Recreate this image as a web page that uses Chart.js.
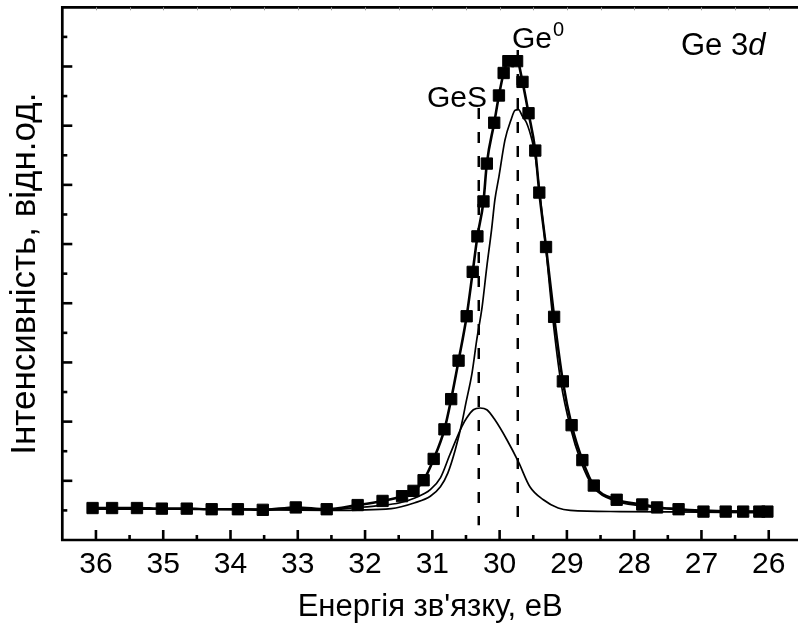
<!DOCTYPE html>
<html>
<head>
<meta charset="utf-8">
<script src="https://cdn.jsdelivr.net/npm/chart.js@4/dist/chart.umd.min.js"></script>
<style>
html,body{margin:0;padding:0;background:#fff;overflow:hidden}
#wrap{width:798px;height:635px;position:relative}
</style>
</head>
<body>
<div id="wrap"><canvas id="c" width="798" height="635"></canvas></div>
<script>
// ---- Data (binding energy in eV, intensity in arbitrary units) ----
const energy = [36.05, 35.76, 35.39, 35.02, 34.65, 34.28, 33.89, 33.52, 33.03, 32.57,
  32.11, 31.74, 31.45, 31.28, 31.13, 30.98, 30.82, 30.72, 30.61, 30.49,
  30.40, 30.33, 30.24, 30.19, 30.08, 30.01, 29.94, 29.87, 29.74, 29.66,
  29.57, 29.47, 29.41, 29.31, 29.19, 29.06, 28.93, 28.77, 28.60, 28.26,
  27.88, 27.66, 27.34, 26.97, 26.64, 26.38, 26.14, 26.02];
const intensity = [0.54, 0.54, 0.54, 0.53, 0.53, 0.52, 0.52, 0.51, 0.55, 0.52,
  0.59, 0.66, 0.74, 0.83, 1.01, 1.37, 1.87, 2.38, 3.03, 3.78,
  4.53, 5.13, 5.72, 6.36, 7.05, 7.51, 7.89, 8.09, 8.09, 7.74,
  7.21, 6.58, 5.87, 4.95, 3.77, 2.68, 1.94, 1.35, 0.92, 0.68,
  0.60, 0.55, 0.52, 0.48, 0.48, 0.48, 0.48, 0.48];

const gesEnergy = [36.04, 34.45, 32.96, 32.52, 32.22, 31.78, 31.48, 31.26, 31.03, 30.88,
  30.74, 30.56, 30.49, 30.39, 30.29, 30.19, 30.07, 29.89, 29.72, 29.55,
  29.35, 29.13, 28.95, 28.21, 27.02, 26.03];
const gesIntensity = [0.53, 0.52, 0.52, 0.51, 0.54, 0.58, 0.63, 0.71, 0.85, 1.05,
  1.44, 1.92, 2.06, 2.20, 2.23, 2.20, 2.03, 1.69, 1.32, 0.90,
  0.68, 0.54, 0.50, 0.48, 0.47, 0.46];

const ge0Energy = [36.05, 34.45, 32.52, 31.61, 31.26, 31.03, 30.88, 30.77, 30.66, 30.56,
  30.50, 30.41, 30.34, 30.26, 30.19, 30.12, 30.07, 30.01, 29.92, 29.83,
  29.77, 29.72, 29.66, 29.60, 29.52, 29.47, 29.40, 29.31, 29.21, 29.09,
  28.95, 28.79, 28.61, 28.28, 27.91, 27.47, 26.87, 26.03];
const ge0Intensity = [0.52, 0.52, 0.50, 0.53, 0.63, 0.74, 0.90, 1.13, 1.52, 1.98,
  2.32, 2.82, 3.38, 3.94, 4.62, 5.24, 5.75, 6.14, 6.76, 7.10,
  7.26, 7.27, 7.16, 7.05, 6.76, 6.48, 5.83, 4.90, 3.75, 2.67,
  1.91, 1.32, 0.90, 0.66, 0.58, 0.53, 0.50, 0.48];

// peak marker lines
const peakNames = ['GeS', 'Ge0'];
const peakEnergy = [30.31, 29.73];
const peakTop = [7.30, 8.28];
const peakBottom = [0.25, 0.25];

// axis ticks
const xTicks = [36, 35.5, 35, 34.5, 34, 33.5, 33, 32.5, 32, 31.5, 31, 30.5, 30, 29.5, 29, 28.5, 28, 27.5, 27, 26.5, 26];
const yTicks = [0.5, 1, 1.5, 2, 2.5, 3, 3.5, 4, 4.5, 5, 5.5, 6, 6.5, 7, 7.5, 8, 8.5];

const xTitle = 'Енергія зв\'язку, еВ';
const yTitle = 'Інтенсивність, відн.од.';

const pts = (xs, ys) => xs.map((v, i) => ({x: v, y: ys[i]}));

const FONT = '"Liberation Sans", Arial, sans-serif';

const framePlugin = {
  id: 'framePlugin',
  afterDraw(chart) {
    const {ctx, chartArea: a, scales: {x, y}} = chart;
    ctx.save();
    ctx.strokeStyle = '#000';
    ctx.lineCap = 'butt';
    ctx.lineWidth = 2.6;
    x.ticks.forEach(t => {
      const px = x.getPixelForValue(t.value);
      const len = Number.isInteger(t.value) ? 10 : 5;
      ctx.beginPath(); ctx.moveTo(px, a.bottom); ctx.lineTo(px, a.bottom - len); ctx.stroke();
    });
    y.ticks.forEach(t => {
      const py = y.getPixelForValue(t.value);
      const len = Number.isInteger(t.value) ? 10 : 5;
      ctx.beginPath(); ctx.moveTo(a.left, py); ctx.lineTo(a.left + len, py); ctx.stroke();
    });
    ctx.lineWidth = 2.7;
    ctx.beginPath();
    ctx.moveTo(a.right + 2, a.top);
    ctx.lineTo(a.left, a.top);
    ctx.lineTo(a.left, a.bottom);
    ctx.lineTo(a.right + 2, a.bottom);
    ctx.stroke();
    ctx.strokeStyle = '#999';
    ctx.lineWidth = 1;
    x.ticks.forEach(t => {
      const px = Math.round(x.getPixelForValue(t.value)) + 0.5;
      ctx.beginPath(); ctx.moveTo(px, a.top); ctx.lineTo(px, a.top + 3); ctx.stroke();
    });
    ctx.fillStyle = '#000';
    ctx.textBaseline = 'alphabetic';
    ctx.textAlign = 'left';
    ctx.font = '30px ' + FONT;
    ctx.fillText('GeS', 427, 106.5);
    ctx.fillText('Ge', 512, 48);
    const wGe = ctx.measureText('Ge').width;
    ctx.font = '20px ' + FONT;
    ctx.fillText('0', 512 + wGe + 1, 36);
    ctx.font = '31px ' + FONT;
    ctx.fillText('Ge 3', 681, 55);
    const w3 = ctx.measureText('Ge 3').width;
    ctx.font = 'italic 31px ' + FONT;
    ctx.fillText('d', 681 + w3, 55);
    ctx.restore();
  }
};

const peakDatasets = peakNames.map((n, i) => ({
  label: n,
  data: [{x: peakEnergy[i], y: peakTop[i]}, {x: peakEnergy[i], y: peakBottom[i]}],
  borderColor: '#000',
  borderWidth: 2.5,
  borderDash: [11, 13],
  pointRadius: 0,
  fill: false,
  tension: 0
}));

new Chart(document.getElementById('c'), {
  type: 'line',
  data: {
    datasets: [
      {
        label: 'Ge 3d',
        data: pts(energy, intensity),
        borderColor: '#000',
        backgroundColor: '#000',
        borderWidth: 2.6,
        pointStyle: 'rect',
        pointRadius: 8,
        pointBorderWidth: 1,
        pointBackgroundColor: '#000',
        pointBorderColor: '#000',
        cubicInterpolationMode: 'monotone',
        fill: false
      },
      {
        label: 'Ge0',
        data: pts(ge0Energy, ge0Intensity),
        borderColor: '#000',
        borderWidth: 1.7,
        pointRadius: 0,
        cubicInterpolationMode: 'monotone',
        fill: false
      },
      {
        label: 'GeS',
        data: pts(gesEnergy, gesIntensity),
        borderColor: '#000',
        borderWidth: 1.7,
        pointRadius: 0,
        cubicInterpolationMode: 'monotone',
        fill: false
      },
      ...peakDatasets
    ]
  },
  options: {
    responsive: false,
    devicePixelRatio: 1,
    animation: false,
    events: [],
    layout: {autoPadding: false, padding: {top: 7.3, left: 0, right: 0, bottom: 0}},
    plugins: {legend: {display: false}, tooltip: {enabled: false}, title: {display: false}},
    scales: {
      x: {
        type: 'linear',
        reverse: true,
        min: 25.565,
        max: 36.5,
        afterBuildTicks: s => { s.ticks = xTicks.map(v => ({value: v})); },
        afterFit: s => { s.height = 95; s.paddingLeft = 0; s.paddingRight = 0; },
        grid: {display: false, drawTicks: false},
        border: {display: false},
        ticks: {
          autoSkip: false,
          maxRotation: 0,
          padding: 7,
          color: '#000',
          font: {family: FONT, size: 30},
          callback: v => Number.isInteger(v) ? String(v) : ''
        },
        title: {
          display: true,
          text: xTitle,
          color: '#000',
          font: {family: FONT, size: 31},
          padding: {top: 0, bottom: 9}
        }
      },
      y: {
        type: 'linear',
        min: 0,
        max: 9,
        afterBuildTicks: s => { s.ticks = yTicks.map(v => ({value: v})); },
        afterFit: s => { s.width = 62.3; s.paddingTop = 0; s.paddingBottom = 0; },
        grid: {display: false, drawTicks: false},
        border: {display: false},
        ticks: {display: false},
        title: {
          display: true,
          text: yTitle,
          color: '#000',
          font: {family: FONT, size: 35},
          padding: {top: 4, bottom: 0}
        }
      }
    }
  },
  plugins: [framePlugin]
});
</script>
</body>
</html>
